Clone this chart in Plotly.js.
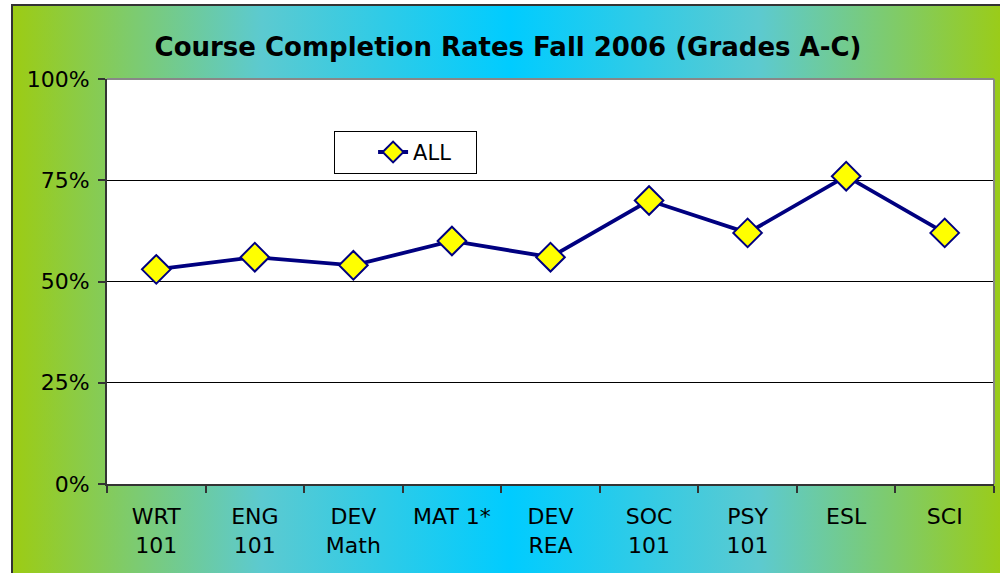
<!DOCTYPE html>
<html>
<head>
<meta charset="utf-8">
<script src="https://cdn.plot.ly/plotly-3.0.1.min.js"></script>
<style>
  html, body { margin: 0; padding: 0; background: #ffffff; overflow: hidden; }
  #frame {
    position: absolute; left: 11px; top: 4px; width: 998px; height: 600px;
    box-sizing: border-box; border: 2px solid #333333;
    background: linear-gradient(to right, #9ccc14 0%, #5ccad0 25%, #00ccff 50%, #5ccad0 75%, #9ccc14 100%);
  }
  #chart { position: absolute; left: 0; top: 0; width: 1000px; height: 573px; }
</style>
</head>
<body>
<div id="frame"></div>
<div id="chart"></div>
<script>
const categories = ["WRT<br>101", "ENG<br>101", "DEV<br>Math", "MAT 1*", "DEV<br>REA", "SOC<br>101", "PSY<br>101", "ESL", "SCI"];
const allValues = [0.53, 0.56, 0.54, 0.60, 0.56, 0.70, 0.62, 0.76, 0.62];
const yTickVals = [0, 0.25, 0.5, 0.75, 1];
const yTickText = ["0%", "25%", "50%", "75%", "100%"];
const seriesName = "ALL";
const chartTitle = "Course Completion Rates Fall 2006 (Grades A-C)";

const trace = {
  x: categories,
  y: allValues,
  name: seriesName,
  type: "scatter",
  mode: "lines+markers",
  line: { color: "#000080", width: 3.8 },
  marker: { symbol: "diamond", size: 22, color: "#ffff00", line: { color: "#000080", width: 2 } }
};

const layout = {
  width: 1000, height: 573,
  paper_bgcolor: "rgba(0,0,0,0)",
  plot_bgcolor: "#ffffff",
  margin: { l: 107, r: 6, t: 79, b: 89 },
  font: { family: "DejaVu Sans, Verdana, sans-serif", color: "#000000", size: 22 },
  title: {
    text: "<b>" + chartTitle + "</b>",
    font: { size: 26, color: "#000000", family: "DejaVu Sans, Verdana, sans-serif" },
    x: 0.508, xanchor: "center", y: 0.918, yanchor: "middle"
  },
  showlegend: true,
  legend: {
    orientation: "h",
    x: 0.256, y: 0.872, xanchor: "left", yanchor: "top",
    bgcolor: "#ffffff", bordercolor: "#000000", borderwidth: 1,
    font: { size: 21, color: "#000000" },
    indentation: 38,
    entrywidth: 58,
    entrywidthmode: "pixels"
  },
  xaxis: {
    type: "category",
    range: [-0.5, 8.5],
    showgrid: false,
    showline: true, linecolor: "#333333", linewidth: 2,
    ticks: "outside", tickson: "boundaries", ticklen: 7, tickcolor: "#333333", tickwidth: 2,
    tickfont: { size: 22, color: "#000000" },
    ticklabelstandoff: 12,
    fixedrange: true
  },
  yaxis: {
    range: [0, 1],
    tickvals: yTickVals, ticktext: yTickText,
    showgrid: true, gridcolor: "#000000", gridwidth: 1,
    zeroline: false,
    showline: true, linecolor: "#333333", linewidth: 2,
    ticks: "outside", ticklen: 7, tickcolor: "#333333", tickwidth: 2,
    tickfont: { size: 22, color: "#000000" },
    ticklabelstandoff: 4,
    fixedrange: true
  },
  shapes: [
    { type: "line", xref: "paper", yref: "paper", x0: 0, x1: 1, y0: 1, y1: 1, line: { color: "#888888", width: 2 } },
    { type: "line", xref: "paper", yref: "paper", x0: 1, x1: 1, y0: 0, y1: 1, line: { color: "#888888", width: 2 } }
  ]
};

Plotly.newPlot("chart", [trace], layout, { displayModeBar: false, staticPlot: true });
</script>
</body>
</html>
